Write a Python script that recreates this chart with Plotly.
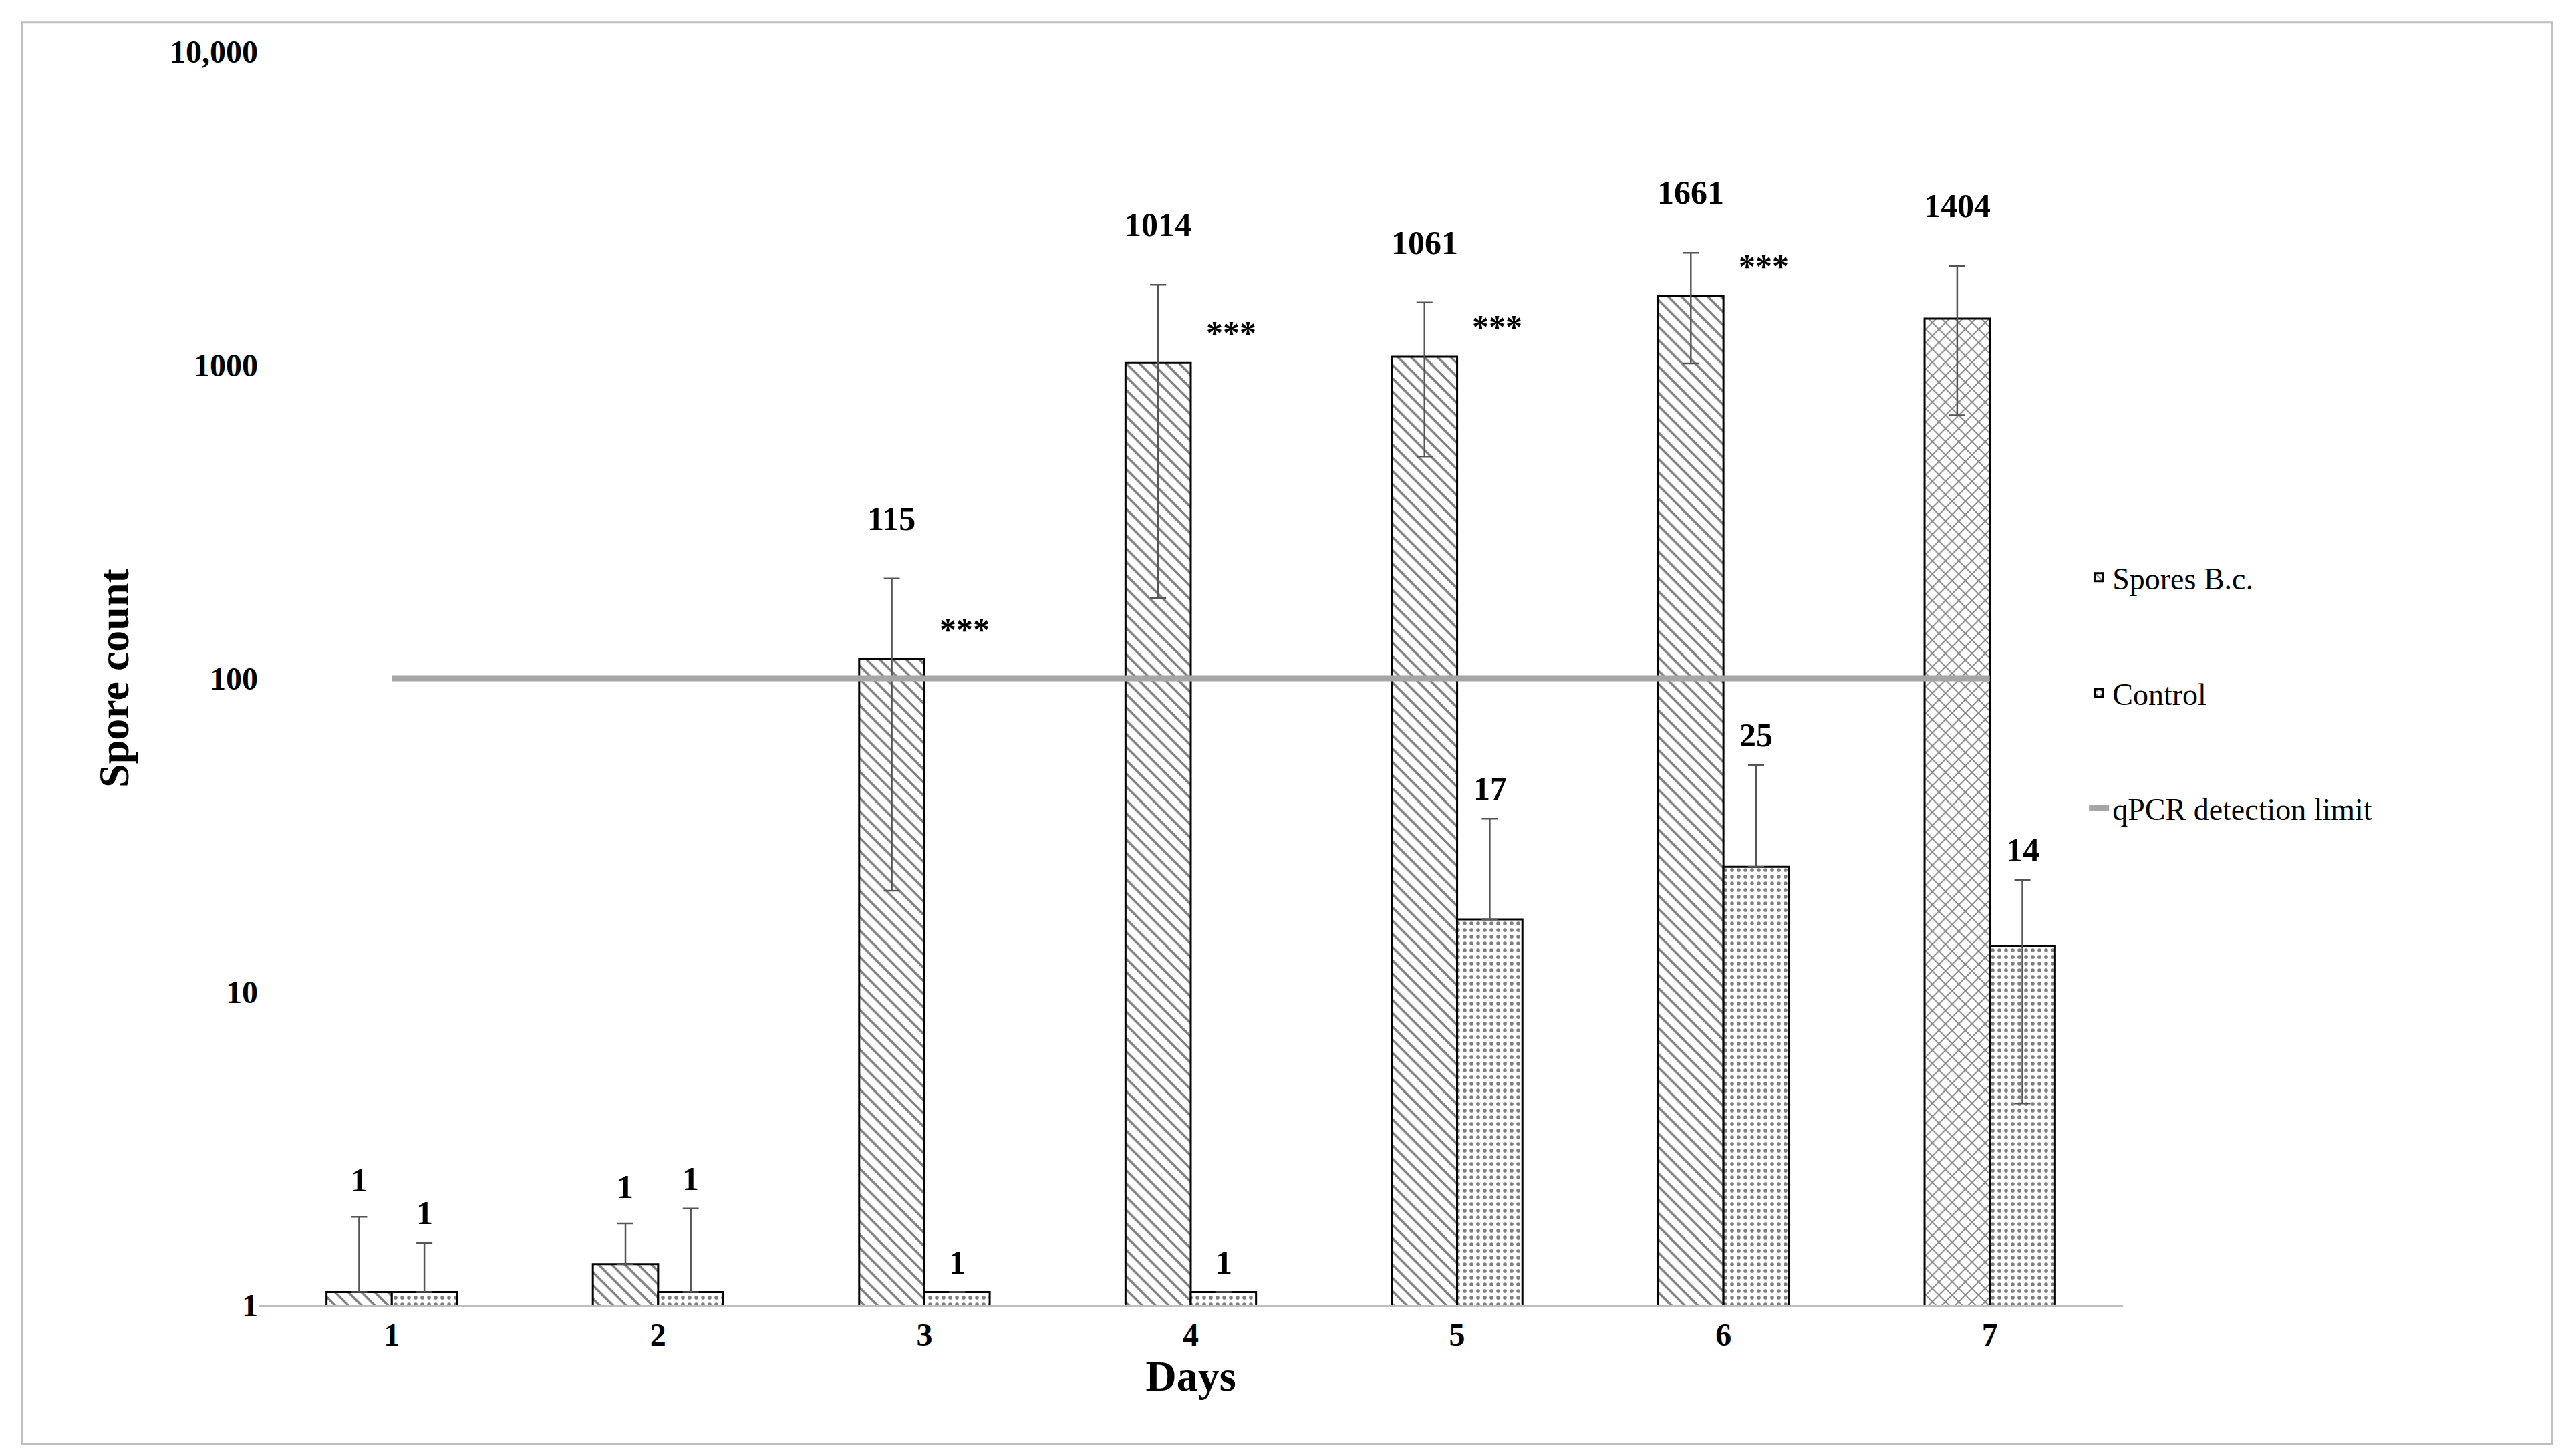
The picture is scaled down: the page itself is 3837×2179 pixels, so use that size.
import math
import plotly.graph_objects as go

days = [1, 2, 3, 4, 5, 6, 7]
spores = [1.1, 1.35, 115, 1014, 1061, 1661, 1404]
spores_up = [1.91, 1.82, 208, 1800, 1580, 2280, 2070]
spores_lo = [1.1, 1.35, 21, 180, 510, 1010, 690]
control = [1.1, 1.1, 1.1, 1.1, 17, 25, 14]
control_up = [1.58, 2.03, 1.1, 1.1, 35.6, 52.9, 22.7]
control_lo = [1.1, 1.1, 1.1, 1.1, 17, 25, 4.4]
spores_lbl = ["1", "1", "115", "1014", "1061", "1661", "1404"]
control_lbl = ["1", "1", "1", "1", "17", "25", "14"]
stars = ["", "", "***", "***", "***", "***", ""]
limit = 100
spore_shapes = ["\\"] * 6 + ["x"]

FONT = "Liberation Serif"
fig = go.Figure()
fig.add_trace(go.Bar(
    x=days, y=spores, name="Spores B.c.", legendgroup="a",
    marker=dict(color="white", line=dict(color="black", width=3),
                pattern=dict(shape=spore_shapes, fgcolor="black", size=14, solidity=0.25)),
    error_y=dict(type="data", symmetric=False,
                 array=[u - v for u, v in zip(spores_up, spores)],
                 arrayminus=[v - l for v, l in zip(spores, spores_lo)],
                 color="#555", thickness=2.5, width=12)))
fig.add_trace(go.Bar(
    x=days, y=control, name="Control", legendgroup="b",
    marker=dict(color="white", line=dict(color="black", width=3),
                pattern=dict(shape=".", fgcolor="black", size=10, solidity=0.25)),
    error_y=dict(type="data", symmetric=False,
                 array=[u - v for u, v in zip(control_up, control)],
                 arrayminus=[v - l for v, l in zip(control, control_lo)],
                 color="#555", thickness=2.5, width=12)))
fig.add_trace(go.Scatter(
    x=[days[0], days[-1]], y=[limit, limit], mode="lines", name="qPCR detection limit",
    legendgroup="c", line=dict(color="#a6a6a6", width=9)))

afont = dict(family=FONT, size=50, color="black")
for d, s, su, c, cu, sl, cl, st in zip(days, spores, spores_up, control, control_up,
                                       spores_lbl, control_lbl, stars):
    fig.add_annotation(x=d, y=math.log10(su), text="<b>%s</b>" % sl, showarrow=False,
                       xshift=-49, yanchor="bottom", yshift=60 if d > 2 else 25, font=afont)
    fig.add_annotation(x=d, y=math.log10(cu), text="<b>%s</b>" % cl, showarrow=False,
                       xshift=49, yanchor="bottom", yshift=15, font=afont)
    if st:
        fig.add_annotation(x=d, y=math.log10(s), text="<b>%s</b>" % st, showarrow=False,
                           xshift=60, yanchor="bottom", yshift=15, font=afont)

fig.update_layout(
    width=3837, height=2179, plot_bgcolor="white", paper_bgcolor="white",
    margin=dict(l=379, r=668, t=69, b=234),
    barmode="group", bargap=0.51, bargroupgap=0,
    font=dict(family=FONT, color="black"),
    legend=dict(x=0.98, y=0.6, xanchor="left", yanchor="top", tracegroupgap=110,
                font=dict(family=FONT, size=46, color="black")),
    xaxis=dict(tickvals=days, ticktext=["<b>%d</b>" % d for d in days],
               tickfont=dict(size=48), showline=True, linecolor="#bfbfbf", linewidth=3,
               title=dict(text="<b>Days</b>", font=dict(size=64), standoff=5),
               range=[0.5, 7.5]),
    yaxis=dict(type="log", range=[0, 4], tickvals=[1, 10, 100, 1000, 10000],
               ticktext=["<b>1</b>", "<b>10</b>", "<b>100</b>", "<b>1000</b>", "<b>10,000</b>"],
               tickfont=dict(size=48), showgrid=False, ticks="",
               title=dict(text="<b>Spore count</b>", font=dict(size=64), standoff=40)),
    shapes=[dict(type="rect", xref="paper", yref="paper", x0=-0.127, x1=1.23, y0=-0.111, y1=1.023,
                 line=dict(color="#bfbfbf", width=3))])
fig.write_html("out.html")
